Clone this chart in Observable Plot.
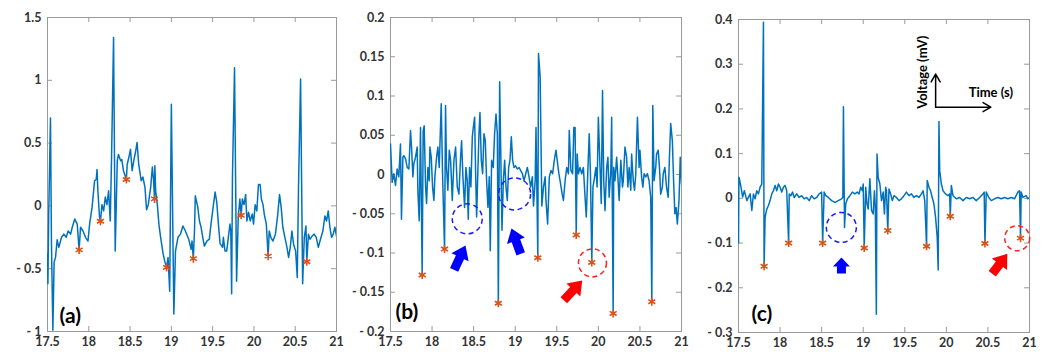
<!DOCTYPE html>
<html><head><meta charset="utf-8">
<script src="https://cdn.jsdelivr.net/npm/d3@7"></script>
<script src="https://cdn.jsdelivr.net/npm/@observablehq/plot@0.6"></script>
<style>
body{margin:0;background:#fff;}
#wrap{display:flex;width:1045px;height:352px;overflow:hidden;}
#wrap svg{flex:none;}
</style></head><body><div id="wrap"></div>
<script>
// ---------- shared ----------
const xTicks = [17.5, 18, 18.5, 19, 19.5, 20, 20.5, 21];

// ---------- panel (a) ----------
const yTicksA = [-1, -0.5, 0, 0.5, 1, 1.5];
const tA = [17.500,17.505,17.515,17.536,17.548,17.565,17.580,17.597,17.617,17.637,17.670,17.698,17.726,17.750,17.780,17.800,17.830,17.860,17.883,17.900,17.930,17.960,17.990,18.010,18.040,18.070,18.090,18.100,18.110,18.130,18.141,18.160,18.180,18.200,18.220,18.240,18.260,18.275,18.300,18.320,18.345,18.360,18.385,18.400,18.420,18.455,18.465,18.485,18.505,18.525,18.545,18.565,18.585,18.605,18.635,18.655,18.680,18.700,18.720,18.750,18.770,18.785,18.796,18.800,18.810,18.830,18.850,18.870,18.900,18.920,18.942,18.960,18.980,19.000,19.030,19.050,19.080,19.110,19.140,19.170,19.210,19.240,19.250,19.266,19.280,19.290,19.320,19.340,19.360,19.380,19.400,19.430,19.460,19.480,19.510,19.530,19.550,19.570,19.590,19.620,19.630,19.650,19.670,19.690,19.710,19.720,19.730,19.740,19.765,19.790,19.810,19.830,19.845,19.860,19.880,19.900,19.915,19.935,19.955,19.980,19.995,20.015,20.035,20.055,20.075,20.090,20.110,20.125,20.150,20.172,20.185,20.205,20.230,20.260,20.285,20.310,20.330,20.350,20.375,20.400,20.420,20.440,20.460,20.480,20.505,20.525,20.540,20.565,20.590,20.610,20.630,20.640,20.660,20.680,20.705,20.730,20.755,20.780,20.800,20.835,20.860,20.880,20.900,20.920,20.940,20.960,20.980,21.000];
const vA = [-0.38,-0.62,-0.05,0.70,-0.30,-0.99,-0.45,-0.41,-0.27,-0.33,-0.25,-0.225,-0.25,-0.20,-0.225,-0.17,-0.105,-0.145,-0.35,-0.17,-0.20,-0.25,-0.28,-0.145,-0.01,0.20,0.21,0.29,0.12,-0.09,-0.122,0.01,-0.04,0.07,0.01,0.12,-0.12,0.36,1.34,-0.36,0.36,0.41,0.36,0.37,0.28,0.21,0.33,0.385,0.45,0.28,0.36,0.425,0.505,0.33,0.20,0.23,0.15,-0.03,0.01,0.15,0.31,0.20,0.056,0.32,0.12,0.01,-0.15,-0.25,-0.38,-0.44,-0.49,-0.41,-0.68,0.81,-0.86,-0.36,-0.25,-0.225,-0.16,-0.20,-0.265,-0.345,-0.28,-0.42,-0.20,0.08,-0.01,-0.12,-0.17,-0.25,-0.32,-0.28,-0.265,-0.145,0.01,0.11,0.03,-0.145,-0.30,-0.33,-0.25,-0.36,-0.36,-0.25,-0.145,-0.20,-0.70,0.23,1.10,-0.60,-0.09,0.055,-0.075,0.055,0.01,0.09,-0.12,-0.05,-0.12,-0.065,-0.145,0.01,-0.04,0.17,0.17,0.055,0.01,-0.065,-0.145,-0.40,-0.20,-0.25,-0.28,-0.225,-0.09,0.09,-0.01,-0.17,-0.25,-0.33,-0.41,-0.33,-0.20,-0.305,-0.36,-0.57,0.15,1.01,-0.62,-0.25,-0.16,-0.445,-0.225,-0.265,-0.24,-0.225,-0.25,-0.33,-0.28,-0.20,-0.08,-0.12,-0.04,-0.17,-0.25,-0.225,-0.17,-0.24];
const peakTA = [17.883, 18.141, 18.455, 18.796, 18.942, 19.266, 19.845, 20.172, 20.640];
const peakVA = [-0.35, -0.122, 0.21, 0.056, -0.49, -0.42, -0.075, -0.40, -0.445];

// ---------- panel (b) ----------
const yTicksB = [-0.2, -0.15, -0.1, -0.05, 0, 0.05, 0.1, 0.15, 0.2];
const tB = [17.500,17.520,17.540,17.560,17.580,17.600,17.620,17.632,17.649,17.661,17.681,17.701,17.721,17.741,17.753,17.769,17.781,17.801,17.821,17.829,17.845,17.861,17.881,17.893,17.905,17.922,17.934,17.950,17.966,17.974,17.990,18.006,18.022,18.034,18.054,18.070,18.086,18.110,18.126,18.150,18.162,18.174,18.190,18.207,18.223,18.243,18.263,18.283,18.303,18.323,18.343,18.355,18.371,18.391,18.407,18.423,18.435,18.451,18.467,18.484,18.496,18.512,18.524,18.536,18.552,18.564,18.576,18.592,18.608,18.624,18.640,18.656,18.672,18.688,18.700,18.716,18.736,18.752,18.769,18.785,18.797,18.813,18.829,18.841,18.857,18.873,18.889,18.905,18.921,18.937,18.953,18.969,18.985,19.005,19.025,19.046,19.066,19.086,19.106,19.126,19.146,19.166,19.186,19.206,19.220,19.240,19.250,19.272,19.280,19.300,19.310,19.320,19.340,19.360,19.370,19.390,19.410,19.430,19.450,19.470,19.490,19.510,19.525,19.540,19.565,19.580,19.600,19.620,19.640,19.650,19.670,19.690,19.705,19.720,19.734,19.745,19.760,19.780,19.800,19.820,19.840,19.855,19.875,19.890,19.905,19.921,19.935,19.955,19.970,19.985,20.000,20.020,20.035,20.050,20.065,20.080,20.100,20.115,20.130,20.150,20.160,20.178,20.185,20.200,20.220,20.235,20.250,20.270,20.290,20.300,20.320,20.340,20.355,20.370,20.390,20.400,20.420,20.435,20.450,20.470,20.490,20.500,20.520,20.535,20.550,20.570,20.590,20.610,20.630,20.643,20.655,20.670,20.690,20.700,20.720,20.735,20.750,20.770,20.780,20.800,20.820,20.840,20.855,20.870,20.890,20.905,20.920,20.935,20.950,20.970,20.985,21.000];
const vB = [0.039,-0.010,0.001,-0.014,0.007,-0.003,0.039,-0.057,0.022,0.024,0.020,0.009,0.007,0.056,0.035,-0.003,0.014,0.022,0.035,-0.020,-0.059,0.060,-0.128,0.056,0.062,-0.016,-0.037,0.009,-0.008,0.035,0.022,-0.016,-0.033,-0.003,0.022,0.035,0.009,0.090,0.001,-0.095,0.088,0.009,-0.020,0.031,0.018,-0.033,0.018,0.035,-0.016,-0.025,0.022,0.043,-0.003,-0.042,0.009,-0.008,-0.057,0.009,-0.016,0.048,0.060,0.073,0.001,-0.054,0.009,0.052,0.079,0.018,0.001,0.052,0.043,-0.008,-0.042,-0.003,-0.097,0.018,0.009,0.052,0.077,0.052,-0.164,0.118,0.009,-0.071,-0.008,0.018,-0.016,-0.033,0.009,0.018,0.048,0.018,0.009,0.011,0.007,0.009,0.005,0.001,-0.008,0.001,0.009,-0.003,-0.016,-0.003,-0.040,-0.008,0.060,-0.106,0.154,0.124,0.043,-0.040,-0.016,-0.003,-0.033,-0.063,-0.003,0.005,0.001,0.018,0.031,0.014,0.001,-0.008,-0.025,-0.033,-0.008,0.009,0.001,0.056,0.005,0.001,0.060,0.060,-0.077,0.026,0.001,0.009,0.001,0.009,-0.029,-0.054,0.009,0.052,0.001,-0.112,-0.016,-0.003,0.009,-0.016,0.073,0.009,-0.037,0.107,-0.008,-0.046,0.009,0.022,-0.029,0.005,0.073,-0.177,0.009,-0.008,0.022,-0.003,-0.033,0.018,-0.016,-0.008,0.035,0.022,-0.016,0.009,-0.020,0.026,-0.008,-0.020,0.001,0.073,0.009,0.031,-0.003,-0.016,0.001,-0.003,0.001,-0.008,-0.029,-0.162,0.088,-0.008,0.009,0.026,0.031,0.009,-0.025,-0.016,0.001,0.009,-0.016,-0.029,0.022,0.065,0.043,-0.008,-0.050,-0.042,-0.063,-0.033,0.022,-0.012];
const peakTB = [17.881, 18.150, 18.797, 19.272, 19.734, 19.921, 20.178, 20.643];
const peakVB = [-0.128, -0.095, -0.164, -0.106, -0.077, -0.112, -0.177, -0.162];

// ---------- panel (c) ----------
const yTicksC = [-0.3, -0.2, -0.1, 0, 0.1, 0.2, 0.3, 0.4];
const tC = [17.500,17.505,17.510,17.530,17.550,17.570,17.580,17.600,17.640,17.660,17.680,17.700,17.720,17.740,17.760,17.780,17.800,17.808,17.820,17.840,17.860,17.880,17.900,17.920,17.940,17.960,17.980,18.000,18.020,18.040,18.060,18.080,18.103,18.110,18.130,18.150,18.170,18.200,18.230,18.260,18.290,18.320,18.350,18.380,18.410,18.440,18.470,18.500,18.512,18.530,18.550,18.580,18.620,18.660,18.700,18.740,18.755,18.762,18.775,18.790,18.810,18.840,18.870,18.900,18.930,18.950,18.970,18.990,19.000,19.012,19.030,19.045,19.060,19.080,19.100,19.120,19.135,19.145,19.158,19.166,19.180,19.200,19.220,19.240,19.255,19.270,19.280,19.295,19.310,19.330,19.350,19.370,19.400,19.430,19.460,19.490,19.520,19.550,19.580,19.610,19.640,19.670,19.700,19.720,19.740,19.762,19.770,19.790,19.810,19.830,19.850,19.870,19.890,19.902,19.911,19.920,19.940,19.960,19.990,20.020,20.040,20.047,20.060,20.080,20.120,20.160,20.200,20.240,20.280,20.320,20.360,20.400,20.440,20.455,20.464,20.480,20.510,20.540,20.580,20.620,20.660,20.700,20.740,20.780,20.820,20.860,20.880,20.892,20.900,20.920,20.960,20.980,21.000];
const vC = [-0.100,0.047,0.044,0.025,0.003,0.017,0.010,-0.005,0.010,-0.027,0.010,-0.001,0.017,0.010,0.025,0.032,0.394,-0.152,-0.042,-0.024,-0.016,-0.005,0.010,0.017,0.029,0.017,0.032,0.025,0.014,0.025,0.029,0.017,-0.100,0.010,0.006,0.014,0.002,0.010,0.002,0.006,-0.001,0.002,-0.005,0.006,-0.001,0.002,0.010,0.014,-0.100,0.014,0.006,0.002,-0.005,-0.009,-0.005,-0.001,0.002,0.205,-0.065,-0.012,-0.001,0.006,0.014,0.010,0.014,0.010,0.025,0.017,0.032,-0.111,0.025,-0.012,-0.024,0.044,-0.027,-0.035,0.017,-0.016,-0.259,0.099,0.047,0.032,-0.005,0.014,-0.035,0.025,0.017,-0.072,0.021,0.010,-0.005,0.006,0.002,-0.005,-0.001,0.006,0.014,0.006,0.010,0.002,0.006,0.002,0.010,0.017,-0.005,-0.107,0.040,0.025,0.017,0.002,-0.012,-0.042,-0.087,-0.160,0.172,0.062,0.032,0.017,0.010,0.006,0.010,-0.040,0.029,0.006,-0.001,0.002,-0.005,0.002,-0.001,0.002,-0.005,0.002,0.010,0.014,-0.101,0.014,0.002,-0.005,-0.001,0.002,-0.001,0.002,-0.001,0.002,-0.001,0.014,0.017,-0.089,0.014,0.002,0.006,-0.001,0.002];
const peakTC = [17.808, 18.103, 18.512, 19.012, 19.295, 19.762, 20.047, 20.464, 20.892];
const peakVC = [-0.152, -0.100, -0.100, -0.111, -0.072, -0.107, -0.040, -0.101, -0.089];

// ---------- drawing ----------
const LINE = "#0072BD", STAR = "#D95319", FRAME = "#9a9a9a", LABEL = "#333333";
const fmt = d => d < 0 ? "- " + String(+(-d).toFixed(2)) : String(d);

const blockArrow = {
  draw(ctx, l) {
    const hw = l > 20 ? 9.5 : 8.5, sw = 4.5, hl = l > 20 ? 13 : 9;
    ctx.moveTo(0, -l);
    ctx.lineTo(hw, -l + hl);
    ctx.lineTo(sw, -l + hl);
    ctx.lineTo(sw, 0);
    ctx.lineTo(-sw, 0);
    ctx.lineTo(-sw, -l + hl);
    ctx.lineTo(-hw, -l + hl);
    ctx.closePath();
  }
};

function panel(cfg) {
  const line = cfg.t.map((t, i) => ({t, v: cfg.v[i]}));
  const stars = cfg.pt.map((t, i) => ({t, v: cfg.pv[i]}));
  const plotH = 352 - cfg.mt - cfg.mb;
  const plotW = cfg.width - cfg.ml - cfg.mr;
  const marks = [
    Plot.frame({stroke: FRAME, strokeWidth: 1}),
    // inward ticks on all four sides
    Plot.tickX(xTicks, {x: d => d, insetTop: plotH - 5, stroke: FRAME}),
    Plot.tickX(xTicks, {x: d => d, insetBottom: plotH - 5, stroke: FRAME}),
    Plot.tickY(cfg.yTicks, {y: d => d, insetRight: plotW - 5, stroke: FRAME}),
    Plot.tickY(cfg.yTicks, {y: d => d, insetLeft: plotW - 5, stroke: FRAME}),
    Plot.axisX(xTicks, {anchor: "bottom", label: null, tickSize: 0, tickPadding: 6, fill: LABEL, tickFormat: d => String(d)}),
    Plot.axisY(cfg.yTicks, {anchor: "left", label: null, tickSize: 0, tickPadding: 6, fill: LABEL, tickFormat: fmt}),
    Plot.line(line, {x: "t", y: "v", stroke: LINE, strokeWidth: 1.5, clip: true}),
    Plot.dot(stars, {x: "t", y: "v", symbol: "asterisk", r: 3.8, stroke: STAR, strokeWidth: 1.6}),
    Plot.text([cfg.label], {frameAnchor: "bottom-left", textAnchor: "start", lineAnchor: "bottom",
      dx: cfg.labelDx, dy: cfg.labelDy, fontSize: 21, fontWeight: "bold", fill: "#000"})
  ];
  for (const c of cfg.circles || []) {
    marks.push(Plot.dot([c], {x: "t", y: "v", r: c.r, fill: "none", stroke: c.color, strokeWidth: 1.5, strokeDasharray: "5,3.5"}));
  }
  for (const a of cfg.arrows || []) {
    marks.push(Plot.vector([a], {x: "t", y: "v", anchor: "end", rotate: a.angle, length: a.len, shape: blockArrow, fill: a.color, stroke: "none"}));
  }
  if (cfg.extra) marks.push(...cfg.extra);
  return Plot.plot({
    width: cfg.width, height: 352,
    marginLeft: cfg.ml, marginRight: cfg.mr, marginTop: cfg.mt, marginBottom: cfg.mb,
    x: {domain: [17.5, 21], axis: null},
    y: {domain: cfg.domain, axis: null},
    style: {fontFamily: "Lato, 'Open Sans', sans-serif", fontSize: "12.5px", fontWeight: "bold", background: "white", overflow: "visible"},
    marks
  });
}

const wrap = document.getElementById("wrap");

wrap.append(panel({
  width: 345, ml: 47, mr: 9, mt: 17, mb: 21,
  domain: [-1, 1.5], yTicks: yTicksA,
  t: tA, v: vA, pt: peakTA, pv: peakVA,
  label: "(a)", labelDx: 12, labelDy: -9
}));

wrap.append(panel({
  width: 345, ml: 45, mr: 9, mt: 17, mb: 21,
  domain: [-0.2, 0.2], yTicks: yTicksB,
  t: tB, v: vB, pt: peakTB, pv: peakVB,
  label: "(b)", labelDx: 5, labelDy: -13,
  circles: [
    {t: 18.423, v: -0.0565, r: 15, color: "#1a1aff"},
    {t: 18.993, v: -0.0247, r: 16, color: "#1a1aff"},
    {t: 19.929, v: -0.1126, r: 14, color: "#ff2020"}
  ],
  arrows: [
    {t: 18.402, v: -0.0904, angle: 25, len: 27, color: "#0000ff"},
    {t: 18.955, v: -0.0688, angle: -20, len: 27, color: "#0000ff"},
    {t: 19.806, v: -0.135, angle: 43, len: 27, color: "#ff0000"}
  ]
}));

wrap.append(panel({
  width: 355, ml: 48, mr: 16, mt: 19, mb: 20,
  domain: [-0.3, 0.4], yTicks: yTicksC,
  t: tC, v: vC, pt: peakTC, pv: peakVC,
  label: "(c)", labelDx: 13, labelDy: -12,
  circles: [
    {t: 18.737, v: -0.065, r: 15, color: "#1a1aff"},
    {t: 20.852, v: -0.089, r: 12.5, color: "#ff2020"}
  ],
  arrows: [
    {t: 18.738, v: -0.132, angle: 0, len: 16, color: "#0000ff"},
    {t: 20.733, v: -0.124, angle: 37, len: 25, color: "#ff0000"}
  ],
  extra: [
    Plot.arrow([{x1: 19.871, y1: 0.204, x2: 19.871, y2: 0.278}], {x1: "x1", y1: "y1", x2: "x2", y2: "y2", stroke: "#000", strokeWidth: 1.5, headLength: 9}),
    Plot.arrow([{x1: 19.871, y1: 0.204, x2: 20.535, y2: 0.204}], {x1: "x1", y1: "y1", x2: "x2", y2: "y2", stroke: "#000", strokeWidth: 1.5, headLength: 9}),
    Plot.text(["Voltage (mV)"], {x: () => 19.714, y: () => 0.282, rotate: -90, fontSize: 13, fontWeight: "bold", fill: "#000"}),
    Plot.text(["Time (s)"], {x: () => 20.268, y: () => 0.235, textAnchor: "start", fontSize: 13, fontWeight: "bold", fill: "#000"})
  ]
}));
</script></body></html>
